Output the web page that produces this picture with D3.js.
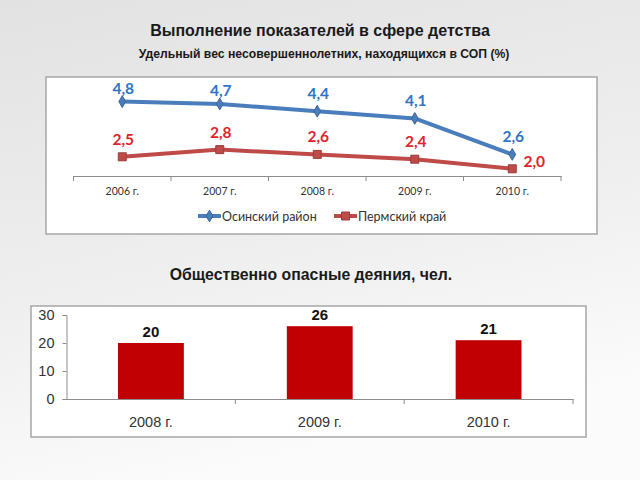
<!DOCTYPE html>
<html><head><meta charset="utf-8">
<script src="https://cdn.jsdelivr.net/npm/d3@7"></script>
<style>html,body{margin:0;padding:0;}svg{display:block;}</style>
</head><body>
<script>
const lineYears = ["2006 г.", "2007 г.", "2008 г.", "2009 г.", "2010 г."];
const osaValues = [4.8, 4.7, 4.4, 4.1, 2.6];
const permValues = [2.5, 2.8, 2.6, 2.4, 2.0];
const seriesNames = ["Осинский район", "Пермский край"];
const barYears = ["2008 г.", "2009 г.", "2010 г."];
const barValues = [20, 26, 21];
const barTicks = [0, 10, 20, 30];

const W = 640, H = 480;
const svg = d3.select("body").append("svg").attr("width", W).attr("height", H);
const defs = svg.append("defs");
const bg = defs.append("linearGradient").attr("id","bg").attr("x1","0").attr("y1","0").attr("x2","0.3").attr("y2","1");
bg.append("stop").attr("offset","0").attr("stop-color","#e2e2e2");
bg.append("stop").attr("offset","0.6").attr("stop-color","#efefef");
bg.append("stop").attr("offset","1").attr("stop-color","#fbfbfb");
svg.append("rect").attr("width",W).attr("height",H).attr("fill","url(#bg)");

const fmt = v => d3.format(".1f")(v).replace(".", ",");

// Titles
svg.append("text").attr("x",320).attr("y",36).attr("text-anchor","middle")
  .attr("font-family","Liberation Sans, Arial").attr("font-weight","bold").attr("font-size",16).attr("fill","#1a1a1a")
  .text("Выполнение показателей в сфере детства");
svg.append("text").attr("x",324).attr("y",57.5).attr("text-anchor","middle")
  .attr("font-family","Liberation Sans, Arial").attr("font-weight","bold").attr("font-size",12.2).attr("fill","#1a1a1a")
  .text("Удельный вес несовершеннолетних, находящихся в СОП (%)");

// Line chart box
svg.append("rect").attr("x",46).attr("y",77).attr("width",551).attr("height",157)
  .attr("fill","#fff").attr("stroke","#a6a6a6").attr("stroke-width",1.5);

const x1 = d3.scaleBand().domain(lineYears).range([73.5, 561]);
const y1 = d3.scaleLinear().domain([1.7, 5.0]).range([176, 96.8]);

const axG = svg.append("g").attr("transform","translate(0,176)")
  .call(d3.axisBottom(x1).tickSize(0).tickPadding(12));
axG.select(".domain").attr("stroke","#8c8c8c").attr("stroke-width",1);
axG.selectAll("text").attr("font-family","Lato, Carlito, sans-serif").attr("font-size",10.5).attr("fill","#333");
const bounds = lineYears.map(d => x1(d)).concat([x1.range()[1]]);
axG.selectAll(".bt").data(bounds).enter().append("line").attr("class","bt")
  .attr("x1",d=>d).attr("x2",d=>d).attr("y1",0).attr("y2",5).attr("stroke","#8c8c8c");

const cx = d => x1(d) + x1.bandwidth()/2;
const line = d3.line().x((d,i)=>cx(lineYears[i])).y(d=>y1(d));

const series = [
  {name: seriesNames[0], values: osaValues, color: "#4a7dbb", label: "#2f74c6", marker: "diamond"},
  {name: seriesNames[1], values: permValues, color: "#be4b48", label: "#e0242b", marker: "square"}
];
series.forEach(s => {
  svg.append("path").datum(s.values).attr("d", line).attr("fill","none")
    .attr("stroke", s.color).attr("stroke-width",4).attr("stroke-linejoin","round");
  const sym = d3.symbol().type(s.marker === "diamond" ? d3.symbolDiamond : d3.symbolSquare).size(s.marker==="diamond"?40:64);
  svg.selectAll(null).data(s.values).enter().append("path")
    .attr("d", sym).attr("transform",(d,i)=>`translate(${cx(lineYears[i])},${y1(d)})`)
    .attr("fill", s.color).attr("stroke", d3.color(s.color).darker(0.6)).attr("stroke-width",1);
});
svg.selectAll(null).data(osaValues).enter().append("text")
  .attr("x",(d,i)=>cx(lineYears[i])+1).attr("y",(d,i)=>y1(d)-(i===0||i===1?8:12))
  .attr("text-anchor","middle").attr("font-family","Lato, Carlito, sans-serif").attr("font-weight","bold")
  .attr("font-size",15.5).attr("fill","#2f74c6").text(d=>fmt(d));
svg.selectAll(null).data(permValues).enter().append("text")
  .attr("x",(d,i)=> i===4 ? cx(lineYears[i])+22 : cx(lineYears[i])+1)
  .attr("y",(d,i)=> i===4 ? y1(d)-2 : y1(d)-12)
  .attr("text-anchor","middle").attr("font-family","Lato, Carlito, sans-serif").attr("font-weight","bold")
  .attr("font-size",15.5).attr("fill","#e0242b").text(d=>fmt(d));

const lg = [{x:198, s:series[0]}, {x:334, s:series[1]}];
lg.forEach(l => {
  svg.append("line").attr("x1",l.x).attr("x2",l.x+23).attr("y1",216).attr("y2",216)
    .attr("stroke",l.s.color).attr("stroke-width",4);
  const sym = d3.symbol().type(l.s.marker==="diamond"?d3.symbolDiamond:d3.symbolSquare).size(l.s.marker==="diamond"?40:64);
  svg.append("path").attr("d",sym).attr("transform",`translate(${l.x+11.5},216)`)
    .attr("fill",l.s.color).attr("stroke",d3.color(l.s.color).darker(0.6));
  svg.append("text").attr("x",l.x+24).attr("y",220.5).attr("font-family","Lato, Carlito, sans-serif")
    .attr("font-size",12.5).attr("fill","#333").text(l.s.name);
});

svg.append("text").attr("x",311).attr("y",280).attr("text-anchor","middle")
  .attr("font-family","Liberation Sans, Arial").attr("font-weight","bold").attr("font-size",15.8).attr("fill","#1a1a1a")
  .text("Общественно опасные деяния, чел.");

svg.append("rect").attr("x",31).attr("y",306).attr("width",555).attr("height",131)
  .attr("fill","#fff").attr("stroke","#a6a6a6").attr("stroke-width",1.5);

const x2 = d3.scaleBand().domain(barYears).range([66.5, 573]).paddingInner(0.61).paddingOuter(0.305);
const y2 = d3.scaleLinear().domain([0, 30]).range([399, 315]);

const yAx = svg.append("g").attr("transform","translate(66.5,0)")
  .call(d3.axisLeft(y2).tickValues(barTicks).tickSize(4).tickPadding(8));
yAx.select(".domain").attr("stroke","#8c8c8c");
yAx.selectAll("line").attr("stroke","#8c8c8c");
yAx.selectAll("text").attr("font-family","Liberation Sans, Arial").attr("font-size",14.5).attr("fill","#333");

svg.selectAll(null).data(barValues).enter().append("rect")
  .attr("x",(d,i)=>x2(barYears[i])).attr("width",x2.bandwidth())
  .attr("y",d=>y2(d)).attr("height",d=>y2(0)-y2(d)).attr("fill","#c00000");

const xAx = svg.append("g").attr("transform","translate(0,399)")
  .call(d3.axisBottom(x2).tickSize(0).tickPadding(18));
xAx.select(".domain").attr("stroke","#8c8c8c");
xAx.selectAll("text").attr("font-family","Liberation Sans, Arial").attr("font-size",14.5).attr("fill","#333");
const step = (573-66.5)/barYears.length;
xAx.selectAll(".bt").data([1,2,3]).enter().append("line").attr("class","bt")
  .attr("x1",d=>66.5+d*step).attr("x2",d=>66.5+d*step).attr("y1",0).attr("y2",5).attr("stroke","#8c8c8c");

svg.selectAll(null).data(barValues).enter().append("text")
  .attr("x",(d,i)=>x2(barYears[i])+x2.bandwidth()/2).attr("y",d=>y2(d)-6)
  .attr("text-anchor","middle").attr("font-family","Liberation Sans, Arial").attr("font-weight","bold")
  .attr("font-size",15).attr("fill","#111").text(d=>d);
</script>
</body></html>
